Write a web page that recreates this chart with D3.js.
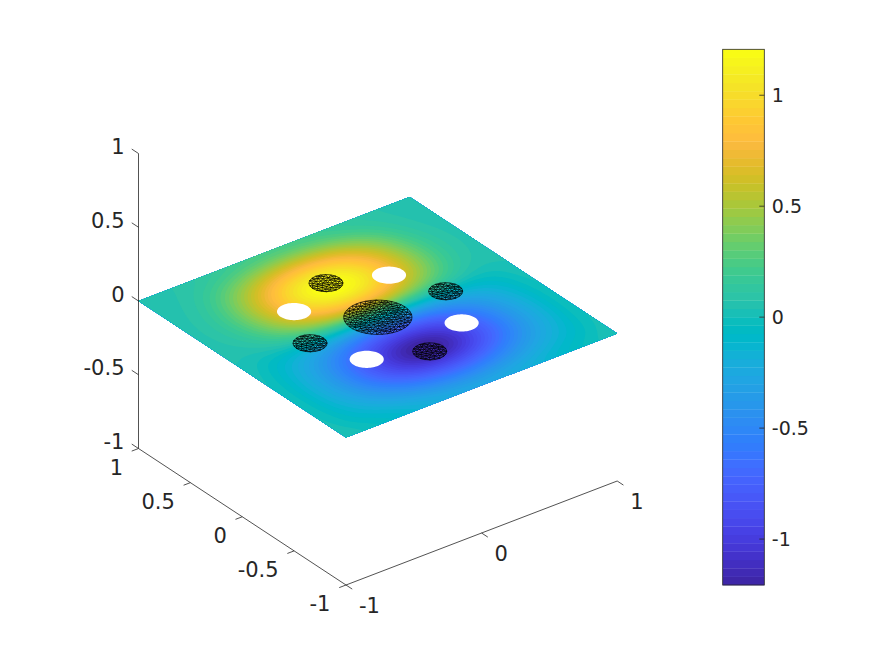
<!DOCTYPE html>
<html><head><meta charset="utf-8">
<script src="https://cdn.jsdelivr.net/npm/d3@7"></script>
<style>html,body{margin:0;padding:0;background:#fff}svg{display:block}text{font-family:"DejaVu Sans";fill:#262626}</style>
</head><body><svg id="c" width="874" height="656"></svg>
<script>
const gridX = d3.range(21).map(i => -1 + i * 0.1);
const fieldRows = [
/* y=-1.0 */ [.046,.03,0,-.03,-.065,-.095,-.135,-.165,-.19,-.205,-.21,-.205,-.19,-.165,-.135,-.095,-.065,-.03,0,.03,.046],
/* y=-0.9 */ [.04,-.02,-.06,-.09,-.135,-.19,-.25,-.30,-.335,-.365,-.375,-.365,-.335,-.30,-.25,-.19,-.135,-.09,-.06,-.02,.04],
/* y=-0.8 */ [.036,-.04,-.105,-.165,-.24,-.32,-.40,-.475,-.535,-.575,-.59,-.575,-.535,-.475,-.40,-.32,-.24,-.165,-.105,-.04,.036],
/* y=-0.7 */ [.036,-.06,-.135,-.225,-.33,-.44,-.55,-.665,-.76,-.82,-.84,-.82,-.76,-.665,-.55,-.44,-.33,-.225,-.135,-.06,.036],
/* y=-0.6 */ [.036,-.07,-.174,-.277,-.419,-.569,-.72,-.861,-.974,-1.05,-1.069,-1.05,-.974,-.861,-.72,-.569,-.419,-.277,-.174,-.07,.036],
/* y=-0.5 */ [.036,-.08,-.183,-.306,-.456,-.635,-.805,-.955,-1.12,-1.25,-1.32,-1.25,-1.12,-.955,-.805,-.635,-.456,-.306,-.183,-.08,.036],
/* y=-0.4 */ [.036,-.08,-.183,-.306,-.456,-.635,-.805,-.955,-1.12,-1.25,-1.32,-1.25,-1.12,-.955,-.805,-.635,-.456,-.306,-.183,-.08,.036],
/* y=-0.3 */ [.036,-.07,-.164,-.277,-.419,-.569,-.72,-.861,-.965,-1.04,-1.06,-1.04,-.965,-.861,-.72,-.569,-.419,-.277,-.164,-.07,.036],
/* y=-0.2 */ [.036,-.05,-.136,-.23,-.334,-.456,-.569,-.682,-.767,-.824,-.842,-.824,-.767,-.682,-.569,-.456,-.334,-.23,-.136,-.05,.036],
/* y=-0.1 */ [.046,-.03,-.098,-.155,-.22,-.287,-.353,-.419,-.475,-.503,-.513,-.503,-.475,-.419,-.353,-.287,-.22,-.155,-.098,-.03,.046],
/* y= 0.0 */ [.046,0,-.033,-.044,-.05,-.05,-.05,-.05,-.05,-.05,-.05,-.05,-.05,-.05,-.05,-.05,-.05,-.044,-.033,0,.046],
/* y= 0.1 */ [.05,.03,.04,.078,.14,.216,.29,.364,.427,.459,.47,.459,.427,.364,.29,.216,.14,.078,.04,.03,.05],
/* y= 0.2 */ [.05,.06,.08,.163,.269,.406,.533,.66,.755,.819,.84,.819,.755,.66,.533,.406,.269,.163,.08,.06,.05],
/* y= 0.3 */ [.05,.07,.11,.216,.364,.533,.702,.861,.977,1.062,1.083,1.062,.977,.861,.702,.533,.364,.216,.11,.07,.05],
/* y= 0.4 */ [.05,.08,.13,.247,.406,.597,.787,.956,1.12,1.25,1.32,1.25,1.12,.956,.787,.597,.406,.247,.13,.08,.05],
/* y= 0.5 */ [.05,.08,.13,.247,.406,.597,.787,.956,1.12,1.25,1.32,1.25,1.12,.956,.787,.597,.406,.247,.13,.08,.05],
/* y= 0.6 */ [.05,.07,.12,.216,.364,.533,.702,.861,.988,1.073,1.094,1.073,.988,.861,.702,.533,.364,.216,.12,.07,.05],
/* y= 0.7 */ [.05,.065,.09,.17,.29,.43,.565,.70,.80,.865,.885,.865,.80,.70,.565,.43,.29,.17,.09,.065,.05],
/* y= 0.8 */ [.05,.06,.075,.125,.20,.295,.385,.48,.55,.59,.61,.59,.55,.48,.385,.295,.20,.125,.075,.06,.05],
/* y= 0.9 */ [.05,.055,.07,.09,.125,.17,.22,.27,.305,.33,.34,.33,.305,.27,.22,.17,.125,.09,.07,.055,.05],
/* y= 1.0 */ [.05,.055,.065,.08,.095,.115,.135,.155,.17,.175,.18,.175,.17,.155,.135,.115,.095,.08,.065,.055,.05]
];
const parula = [[.2422,.1504,.6603],[.2504,.1650,.7076],[.2578,.1818,.7511],[.2647,.1978,.7952],[.2706,.2147,.8364],[.2751,.2342,.8710],[.2783,.2559,.8991],[.2803,.2782,.9221],[.2813,.3006,.9414],[.2810,.3228,.9579],[.2795,.3447,.9717],[.2760,.3667,.9829],[.2699,.3892,.9906],[.2602,.4123,.9952],[.2440,.4358,.9988],[.2206,.4603,.9973],[.1963,.4847,.9892],[.1834,.5074,.9798],[.1786,.5289,.9682],[.1764,.5499,.9520],[.1687,.5703,.9359],[.1540,.5902,.9218],[.1460,.6091,.9079],[.1380,.6276,.8973],[.1248,.6459,.8883],[.1113,.6635,.8763],[.0952,.6798,.8598],[.0689,.6948,.8394],[.0297,.7082,.8163],[.0036,.7203,.7917],[.0067,.7312,.7660],[.0433,.7411,.7394],[.0964,.7500,.7120],[.1408,.7584,.6842],[.1717,.7670,.6554],[.1938,.7758,.6251],[.2161,.7843,.5923],[.2470,.7918,.5567],[.2906,.7973,.5188],[.3406,.8008,.4789],[.3909,.8029,.4354],[.4456,.8024,.3909],[.5044,.7993,.3480],[.5616,.7942,.3045],[.6174,.7876,.2612],[.6720,.7793,.2227],[.7242,.7698,.1910],[.7738,.7598,.1646],[.8203,.7498,.1535],[.8634,.7406,.1596],[.9035,.7330,.1774],[.9393,.7288,.2100],[.9728,.7298,.2394],[.9956,.7434,.2371],[.9970,.7659,.2199],[.9952,.7861,.1990],[.9892,.8137,.1885],[.9786,.8386,.1766],[.9676,.8639,.1643],[.9610,.8890,.1537],[.9597,.9135,.1423],[.9628,.9373,.1265],[.9691,.9606,.1064],[.9769,.9839,.0805]];
const cLim = [-1.207, 1.207];
const axisTicks = [-1, -0.5, 0, 0.5, 1];
const xyTicks = [-1, 0, 1];
const xyLabelTicks = [-1, -0.5, 0, 0.5, 1];
const colorTicks = [-1, -0.5, 0, 0.5, 1];
const holeCentres = [[.35,.35],[-.35,.35],[-.35,-.35],[.35,-.35]];
const holeRadius = 0.1;
const meshDiscs = [[0,0,.2],[0,.5,.1],[.5,0,.1],[-.5,0,.1],[0,-.5,.1]];
const meshStep = 0.032;

const fmt = v => String(v);
const ink = "#262626";
const svg = d3.select("#c");

const pxX = d3.scaleLinear([-1,1],[-135.6,135.6]);
const pyX = d3.scaleLinear([-1,1],[52,-52]);
const pxY = d3.scaleLinear([-1,1],[103.75,-103.75]);
const pyY = d3.scaleLinear([-1,1],[68.25,-68.25]);
const pyZ = d3.scaleLinear([-1,1],[147.5,-147.5]);
const O = [377.85, 317.25];
const proj = (x,y,z=0) => [O[0]+pxX(x)+pxY(y), O[1]+pyX(x)+pyY(y)+pyZ(z)];

// surface shading: the read nodes are sampled onto a finer raster and softened for smooth bands
const n = gridX.length, ss = 5, m = (n-1)*ss+1;
const shade = new Float64Array(m*m);
for(let j=0;j<m;j++){
  const fj=j/ss, j0=Math.min(n-2,Math.floor(fj)), tj=fj-j0;
  for(let i=0;i<m;i++){
    const fi=i/ss, i0=Math.min(n-2,Math.floor(fi)), ti=fi-i0;
    const a=d3.interpolateNumber(fieldRows[j0][i0],fieldRows[j0][i0+1])(ti);
    const b=d3.interpolateNumber(fieldRows[j0+1][i0],fieldRows[j0+1][i0+1])(ti);
    shade[j*m+i]=d3.interpolateNumber(a,b)(tj);
  }
}
d3.blur2({data:shade,width:m},3);
const w = (cLim[1]-cLim[0])/parula.length;
const colors = parula.map(c => d3.rgb(c[0]*255,c[1]*255,c[2]*255).formatRgb());
const levels = parula.map((_,k)=>cLim[0]+k*w);
const gx = d3.scaleLinear([0.5,m-0.5],[-1,1]);
const gy = d3.scaleLinear([0.5,m-0.5],[-1,1]);
const contourPath = d3.geoPath(d3.geoTransform({point(a,b){const p=proj(gx(a),gy(b));this.stream.point(p[0],p[1]);}}));
const lineP = d3.line();
const square = [[-1,-1],[1,-1],[1,1],[-1,1]].map(d=>proj(d[0],d[1]));
svg.append("clipPath").attr("id","plate").append("path").attr("d",lineP(square)+"Z");
const surf = svg.append("g").attr("clip-path","url(#plate)");
surf.append("path").attr("d",lineP(square)+"Z").attr("fill",colors[0]);
surf.selectAll("path.band").data(d3.contours().size([m,m]).smooth(true).thresholds(levels)(Array.from(shade)))
  .join("path").attr("class","band").attr("d",contourPath).attr("fill",(d,i)=>colors[i]);

const circle = (cx,cy,r) => d3.range(0,72).map(i=>{const t=i/72*2*Math.PI;return proj(cx+r*Math.cos(t),cy+r*Math.sin(t));});

svg.append("g").selectAll("path").data(holeCentres).join("path")
  .attr("d",d=>lineP(circle(d[0],d[1],holeRadius))+"Z").attr("fill","#fff");

const wire = svg.append("g").attr("fill","none").attr("stroke","#000").attr("stroke-width",0.72);
meshDiscs.forEach(([cx,cy,r])=>{
  const inner = Math.round(Math.PI*r*r/(meshStep*meshStep*0.866));
  const nodes = d3.range(inner).map(i=>{
    const rr = r*0.92*Math.sqrt((i+0.5)/inner), t = i*2.39996;
    return [cx+rr*Math.cos(t),cy+rr*Math.sin(t)];
  });
  const edge = Math.round(2*Math.PI*r/meshStep);
  d3.range(edge).forEach(i=>{const t=i/edge*2*Math.PI;nodes.push([cx+r*Math.cos(t),cy+r*Math.sin(t)]);});
  const del = d3.Delaunay.from(nodes);
  const pth = d3.path();
  const {halfedges,triangles} = del;
  for(let e=0;e<halfedges.length;e++){
    if(e<halfedges[e]) continue;
    const a=proj(...nodes[triangles[e]]), b=proj(...nodes[triangles[e%3===2?e-2:e+1]]);
    pth.moveTo(a[0],a[1]);pth.lineTo(b[0],b[1]);
  }
  wire.append("path").attr("d",pth.toString());
});

const axes = svg.append("g").attr("stroke",ink).attr("stroke-width",0.8).attr("fill","none");
const seg = (a,b)=>axes.append("path").attr("d",lineP([a,b]));
seg(proj(-1,-1,-1),proj(1,-1,-1));
seg(proj(-1,-1,-1),proj(-1,1,-1));
seg(proj(-1,1,-1),proj(-1,1,1));
axisTicks.forEach(z=>seg(proj(-1,1,z),proj(-1,1.065,z)));
xyTicks.forEach(x=>seg(proj(x,-1,-1),proj(x,-1.06,-1)));
xyLabelTicks.forEach(y=>seg(proj(-1,y,-1),proj(-1.05,y,-1)));

const labels = svg.append("g").attr("font-size",21);
axisTicks.forEach(z=>{const p=proj(-1,1,z);labels.append("text").attr("x",124.5).attr("y",p[1]-7+7.6).attr("text-anchor","end").text(fmt(z));});
xyTicks.forEach(x=>{const p=proj(x,-1,-1);labels.append("text").attr("x",p[0]+13).attr("y",p[1]+27.6).text(fmt(x));});
xyLabelTicks.forEach(y=>{const p=proj(-1,y,-1);labels.append("text").attr("x",p[0]-15.5).attr("y",p[1]+26).attr("text-anchor","end").text(fmt(y));});

const cy = d3.scaleLinear(cLim,[585,49.3]);
const cb = svg.append("g");
cb.selectAll("rect").data(levels).join("rect").attr("x",722.7).attr("width",41.6)
  .attr("y",d=>cy(d+w)).attr("height",d=>cy(d)-cy(d+w)+0.3).attr("fill",(d,i)=>colors[i]);
cb.append("rect").attr("x",722.7).attr("y",49.3).attr("width",41.6).attr("height",535.7).attr("fill","none").attr("stroke",ink).attr("stroke-width",0.8);
colorTicks.forEach(v=>{
  cb.append("line").attr("x1",759.3).attr("x2",764.3).attr("y1",cy(v)).attr("y2",cy(v)).attr("stroke",ink).attr("stroke-width",0.8);
  cb.append("text").attr("x",771.8).attr("y",cy(v)+6.9).attr("font-size",19).text(fmt(v));
});
</script></body></html>
